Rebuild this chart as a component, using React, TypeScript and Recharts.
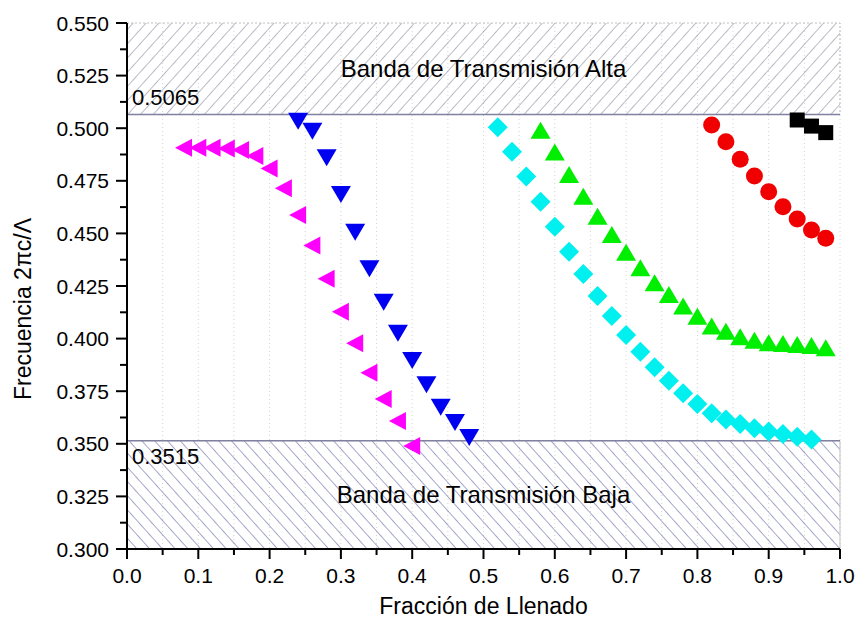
import React from "react"
import { ScatterChart, Scatter, XAxis, YAxis, CartesianGrid, ReferenceArea, ReferenceLine } from "recharts"

const FONT = '"Liberation Sans", Arial, sans-serif'

// tick values (major + minor)
const xTicks = [0, 0.05, 0.1, 0.15, 0.2, 0.25, 0.3, 0.35, 0.4, 0.45, 0.5, 0.55, 0.6, 0.65, 0.7, 0.75, 0.8, 0.85, 0.9, 0.95, 1]
const yTicks = [0.3, 0.3125, 0.325, 0.3375, 0.35, 0.3625, 0.375, 0.3875, 0.4, 0.4125, 0.425, 0.4375, 0.45, 0.4625, 0.475, 0.4875, 0.5, 0.5125, 0.525, 0.5375, 0.55]

const bandHigh = 0.5065
const bandLow = 0.3515

// magenta, left triangles
const magentaX = [0.08, 0.1, 0.12, 0.14, 0.16, 0.18, 0.2, 0.22, 0.24, 0.26, 0.28, 0.3, 0.32, 0.34, 0.36, 0.38, 0.4]
const magentaY = [0.4907, 0.4907, 0.4907, 0.4903, 0.4896, 0.4868, 0.4809, 0.4714, 0.4587, 0.4442, 0.4285, 0.4128, 0.3978, 0.3838, 0.3713, 0.3608, 0.349]

// blue, down triangles
const blueX = [0.24, 0.26, 0.28, 0.3, 0.32, 0.34, 0.36, 0.38, 0.4, 0.42, 0.44, 0.46, 0.48]
const blueY = [0.5035, 0.4988, 0.4862, 0.4687, 0.4508, 0.4334, 0.4175, 0.4028, 0.3898, 0.3783, 0.3676, 0.3604, 0.3532]

// cyan diamonds
const cyanX = [0.52, 0.54, 0.56, 0.58, 0.6, 0.62, 0.64, 0.66, 0.68, 0.7, 0.72, 0.74, 0.76, 0.78, 0.8, 0.82, 0.84, 0.86, 0.88, 0.9, 0.92, 0.94, 0.96]
const cyanY = [0.5004, 0.4888, 0.477, 0.4651, 0.4532, 0.4413, 0.4307, 0.4202, 0.4107, 0.4017, 0.3938, 0.3864, 0.38, 0.374, 0.3689, 0.3645, 0.3616, 0.3594, 0.3574, 0.3558, 0.3547, 0.3534, 0.3521]

// green, up triangles
const greenX = [0.58, 0.6, 0.62, 0.64, 0.66, 0.68, 0.7, 0.72, 0.74, 0.76, 0.78, 0.8, 0.82, 0.84, 0.86, 0.88, 0.9, 0.92, 0.94, 0.96, 0.98]
const greenY = [0.4988, 0.4884, 0.4778, 0.4674, 0.4579, 0.4492, 0.4408, 0.4334, 0.4263, 0.4207, 0.4152, 0.4104, 0.4057, 0.4033, 0.4006, 0.399, 0.3978, 0.3974, 0.397, 0.3965, 0.3954]

// red circles
const redX = [0.82, 0.84, 0.86, 0.88, 0.9, 0.92, 0.94, 0.96, 0.98]
const redY = [0.5015, 0.4936, 0.4852, 0.4773, 0.4698, 0.4627, 0.4568, 0.4516, 0.4477]

// black squares
const blackX = [0.94, 0.96, 0.98]
const blackY = [0.5039, 0.501, 0.4979]

const pts = (xs: number[], ys: number[]) => xs.map((x, i) => ({ x, y: ys[i] }))

const LeftTri = (p: any) => (
  <polygon points={`${p.cx - 9},${p.cy} ${p.cx + 8},${p.cy - 9} ${p.cx + 8},${p.cy + 9}`} fill="#ff00ff" />
)
const DownTri = (p: any) => (
  <polygon points={`${p.cx - 10},${p.cy - 8} ${p.cx + 10},${p.cy - 8} ${p.cx},${p.cy + 9}`} fill="#0000f0" />
)
const UpTri = (p: any) => (
  <polygon points={`${p.cx},${p.cy - 9} ${p.cx + 10},${p.cy + 8} ${p.cx - 10},${p.cy + 8}`} fill="#00ee00" />
)
const Diamond = (p: any) => (
  <polygon points={`${p.cx},${p.cy - 10} ${p.cx + 10},${p.cy} ${p.cx},${p.cy + 10} ${p.cx - 10},${p.cy}`} fill="#00f0f0" />
)
const Dot = (p: any) => <circle cx={p.cx} cy={p.cy} r={8.5} fill="#f00000" />
const Square = (p: any) => <rect x={p.cx - 7.5} y={p.cy - 7.5} width={15} height={15} fill="#000" />

const XTick = ({ x, y, payload, index }: any) => {
  const major = index % 2 === 0
  return (
    <g>
      <line x1={x} x2={x} y1={y} y2={y + (major ? 10 : 6)} stroke="#000" strokeWidth={2} />
      {major && (
        <text x={x} y={y + 34} textAnchor="middle" fontSize={21} fontFamily={FONT} fill="#000">
          {payload.value.toFixed(1)}
        </text>
      )}
    </g>
  )
}

const YTick = ({ x, y, payload, index }: any) => {
  const major = index % 2 === 0
  return (
    <g>
      <line x1={x - (major ? 11 : 7)} x2={x} y1={y} y2={y} stroke="#000" strokeWidth={2} />
      {major && (
        <text x={x - 18} y={y + 7.5} textAnchor="end" fontSize={21} fontFamily={FONT} fill="#000">
          {payload.value.toFixed(3)}
        </text>
      )}
    </g>
  )
}

const bandTitle = (text: string) => (props: any) => {
  const { x, y, width, height } = props.viewBox
  return (
    <text x={x + width / 2} y={y + height / 2 + 8} textAnchor="middle" fontSize={24} fontFamily={FONT} fill="#000">
      {text}
    </text>
  )
}

const lineLabel = (text: string, dy: number) => (props: any) => {
  const { x, y } = props.viewBox
  return (
    <text x={x + 5} y={y + dy} fontSize={22} fontFamily={FONT} fill="#000">
      {text}
    </text>
  )
}

const xTitle = (props: any) => {
  const { x, y, width } = props.viewBox
  return (
    <text x={x + width / 2} y={y + 65} textAnchor="middle" fontSize={23} fontFamily={FONT} fill="#000">
      Fracción de Llenado
    </text>
  )
}

const yTitle = (props: any) => {
  const { x, y, height } = props.viewBox
  const cx = x - 36
  const cy = y + height / 2 + 23
  return (
    <text x={cx} y={cy} transform={`rotate(-90 ${cx} ${cy})`} textAnchor="middle" fontSize={23} fontFamily={FONT} fill="#000">
      Frecuencia 2πc/Λ
    </text>
  )
}

export default function App() {
  return (
    <div style={{ position: "absolute", left: 0, top: 0, width: 855, height: 627, background: "#fff" }}>
      <ScatterChart width={855} height={627} margin={{ top: 23, right: 15, bottom: 0, left: 67 }}>
        <defs>
          <pattern id="hatchUp" width="9.5" height="9.5" patternUnits="userSpaceOnUse" patternTransform="rotate(42)">
            <line x1="0" y1="0" x2="0" y2="9.5" stroke="#76768a" strokeWidth="1" />
          </pattern>
          <pattern id="hatchDown" width="9.5" height="9.5" patternUnits="userSpaceOnUse" patternTransform="rotate(-42)">
            <line x1="0" y1="0" x2="0" y2="9.5" stroke="#4e4e96" strokeWidth="1" />
          </pattern>
        </defs>
        <CartesianGrid horizontal={false} stroke="#d4d4d4" strokeDasharray="1 3" />
        <XAxis
          type="number"
          dataKey="x"
          domain={[0, 1]}
          ticks={xTicks}
          interval={0}
          height={78}
          tickSize={0}
          tickMargin={0}
          tickLine={false}
          axisLine={{ stroke: "#000", strokeWidth: 2 }}
          tick={<XTick />}
          allowDataOverflow
          label={{ content: xTitle }}
        />
        <YAxis
          type="number"
          dataKey="y"
          domain={[0.3, 0.55]}
          ticks={yTicks}
          interval={0}
          width={60}
          tickSize={0}
          tickMargin={0}
          tickLine={false}
          axisLine={{ stroke: "#000", strokeWidth: 2 }}
          tick={<YTick />}
          allowDataOverflow
          label={{ content: yTitle }}
        />
        <ReferenceArea y1={bandHigh} y2={0.55} fill="url(#hatchUp)" fillOpacity={1} stroke="#c0c0c0" strokeDasharray="2 2" label={{ content: bandTitle("Banda de Transmisión Alta") }} />
        <ReferenceArea y1={0.3} y2={bandLow} fill="url(#hatchDown)" fillOpacity={1} stroke="#c0c0c0" label={{ content: bandTitle("Banda de Transmisión Baja") }} />
        <ReferenceLine y={bandHigh} stroke="#8080a0" strokeWidth={1.5} label={{ content: lineLabel("0.5065", -10) }} />
        <ReferenceLine y={bandLow} stroke="#8080a0" strokeWidth={1.5} label={{ content: lineLabel("0.3515", 23) }} />
        <Scatter data={pts(magentaX, magentaY)} shape={LeftTri} isAnimationActive={false} />
        <Scatter data={pts(blueX, blueY)} shape={DownTri} isAnimationActive={false} />
        <Scatter data={pts(cyanX, cyanY)} shape={Diamond} isAnimationActive={false} />
        <Scatter data={pts(greenX, greenY)} shape={UpTri} isAnimationActive={false} />
        <Scatter data={pts(redX, redY)} shape={Dot} isAnimationActive={false} />
        <Scatter data={pts(blackX, blackY)} shape={Square} isAnimationActive={false} />
      </ScatterChart>
    </div>
  )
}
